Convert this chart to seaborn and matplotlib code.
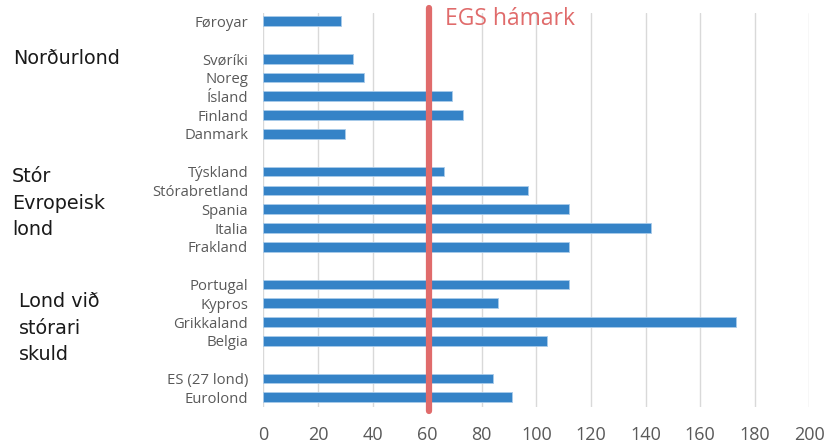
import pandas as pd
import numpy as np
import seaborn as sns
import matplotlib.pyplot as plt

# data (skuld í % av BTÚ)
countries = ["Føroyar", "Svøríki", "Noreg", "Ísland", "Finland", "Danmark",
             "Týskland", "Stórabretland", "Spania", "Italia", "Frakland",
             "Portugal", "Kypros", "Grikkaland", "Belgia",
             "ES (27 lond)", "Eurolond"]
values = [28.5, 33, 37, 69, 73, 30,
          66, 97, 112, 142, 112,
          112, 86, 173, 104,
          84, 91]
# order of rows top to bottom, blank names = empty row between groups
row_order = ["Føroyar", "", "Svøríki", "Noreg", "Ísland", "Finland", "Danmark", " ",
             "Týskland", "Stórabretland", "Spania", "Italia", "Frakland", "  ",
             "Portugal", "Kypros", "Grikkaland", "Belgia", "   ",
             "ES (27 lond)", "Eurolond"]
groups = ["Norðurlond", "Stór\nEvropeisk\nlond", "Lond við\nstórari\nskuld"]
egs_limit = 60.5
xticks = [0, 20, 40, 60, 80, 100, 120, 140, 160, 180, 200]

df = pd.DataFrame({"land": countries, "skuld": values})

sns.set_style("white")
plt.rcParams['font.family'] = ['Open Sans', 'DejaVu Sans']

fig = plt.figure(figsize=(8.25, 4.45), dpi=100)
ax = fig.add_axes([0.3192, 0.0861, 0.6618, 0.8854])

sns.barplot(data=df, x="skuld", y="land", order=row_order, orient="h",
            color="#3583C7", saturation=1, width=0.52, ax=ax,
            edgecolor="#A9CBEA", linewidth=0.6)

ax.set_xlim(0, 200)
ax.set_ylim(20.5, -0.45)
ax.set_xticks(xticks)
ax.set_xticklabels([str(t) for t in xticks], fontsize=13, color="#595959")
ax.set_yticks(range(len(row_order)))
ax.set_yticklabels([r.strip() for r in row_order], fontsize=10.7, color="#595959")
ax.tick_params(axis="both", length=0)
ax.tick_params(axis="y", pad=11)
ax.tick_params(axis="x", pad=14)
ax.set_xlabel("")
ax.set_ylabel("")
ax.grid(axis="x", color="#D9D9D9", linewidth=1)
ax.set_axisbelow(True)
for s in ax.spines.values():
    s.set_visible(False)

# EGS limit line
ax.axvline(egs_limit, ymin=-0.01, ymax=1.012, color="#E06B6B", linewidth=4.5, clip_on=False)
ax.text(egs_limit + 6.2, -0.1, "EGS hámark", color="#E06B6B", fontsize=16.5,
        va="center", ha="left")

# group labels on the left
fig.text(13 / 825, 1 - 58 / 445, groups[0], fontsize=13.8, color="#1a1a1a",
         va="center", ha="left", family="DejaVu Sans")
fig.text(12 / 825, 1 - 203 / 445, groups[1], fontsize=13.8, color="#1a1a1a",
         va="center", ha="left", family="DejaVu Sans", linespacing=1.52)
fig.text(19 / 825, 1 - 328 / 445, groups[2], fontsize=13.8, color="#1a1a1a",
         va="center", ha="left", family="DejaVu Sans", linespacing=1.52)

fig.savefig("out.png", dpi=100)
